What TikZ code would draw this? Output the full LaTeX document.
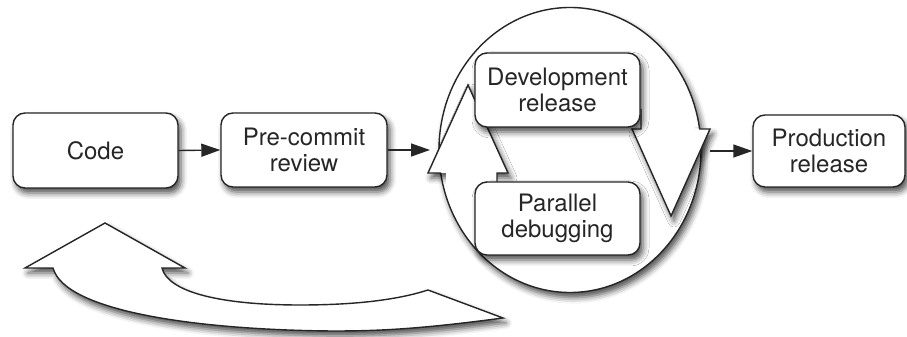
\documentclass[tikz,border=0pt]{standalone}
\usepackage{fontspec}
\setmainfont{TeX Gyre Heros}
\usetikzlibrary{shadows.blur,arrows.meta,shapes.geometric}
\begin{document}
\begin{tikzpicture}[x=1pt,y=1pt,
  shad/.style={blur shadow={shadow xshift=3pt,shadow yshift=-5pt,shadow blur radius=6pt,shadow opacity=70}},
  rbox/.style={draw=black!85, line width=1.4pt, fill=white, rounded corners=12pt, align=center,
    font=\fontsize{24}{26.5}\selectfont, text=black!85, inner sep=0pt, shad},
  conn/.style={line width=1.4pt, draw=black!85, -{Triangle[length=19pt,width=13pt]}},
  fig/.style={draw=black!85, line width=1.4pt, fill=white, line join=miter},
  edge/.style={draw=black!85, line width=1.4pt, line join=miter}
]
\useasboundingbox (0,0) rectangle (907,337);
% cycle circle
\node[ellipse, fig, shad, minimum width=262pt, minimum height=285pt, inner sep=0pt] (cyc) at (570,187) {};
% loop-back arrow
\path[fig, shad] (105,114) -- (185,69) -- (162,69)
  .. controls (168,45) and (220,32) .. (300,32)
  .. controls (360,32) and (400,38) .. (428,47) -- (503,19)
  .. controls (420,8) and (380,6) .. (333,6)
  .. controls (200,7) and (65,25) .. (53,69) -- (25,69) -- cycle;
% up arrow inside circle
\fill[white, shad] (428,164) -- (468,252) -- (508,164) -- cycle;
\fill[white] (446,165) rectangle (497,150);
\draw[edge] (441,164) -- (428,164) -- (468,252) -- (508,164) -- (497,164) -- (497,155);
% down arrow inside circle
\fill[white, shad] (632,208) -- (671,121) -- (710,208) -- cycle;
\fill[white] (642,207) rectangle (695,225);
\draw[edge] (641,228) -- (641,208) -- (632,208) -- (671,121) -- (710,208) -- (699,208);
% boxes
\node[rbox, minimum width=165pt, minimum height=75pt] (code) at (95.5,186.5) {Code};
\node[rbox, minimum width=166pt, minimum height=74pt] (pre) at (304,187) {Pre-commit\\review};
\node[rbox, minimum width=165pt, minimum height=74pt] (dev) at (557.5,247) {Development\\release};
\node[rbox, minimum width=165pt, minimum height=73pt] (par) at (557.5,118.5) {Parallel\\debugging};
\node[rbox, minimum width=152pt, minimum height=72pt] (prod) at (829,186) {Production\\release};
% connectors
\coordinate (cin) at (430,187);
\coordinate (cout) at (710,186);
\draw[conn] (code.east) -- (pre.west);
\draw[conn] (pre.east) -- (pre.east -| cin);
\draw[conn] (cout |- prod.west) -- (prod.west);
\end{tikzpicture}
\end{document}
